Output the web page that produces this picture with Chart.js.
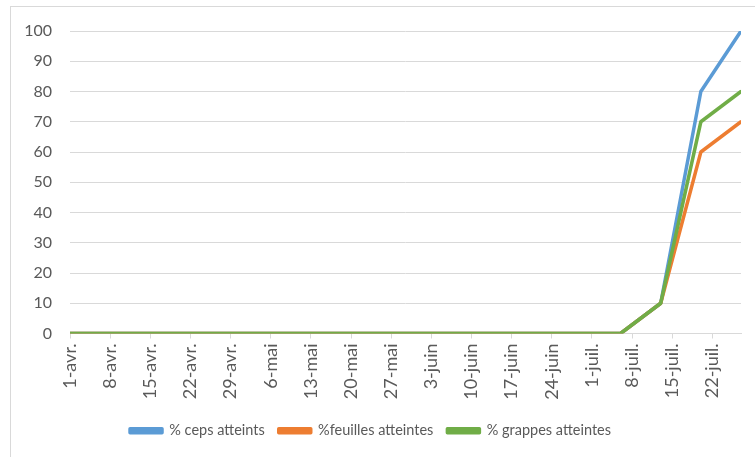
<!DOCTYPE html>
<html>
<head>
<meta charset="utf-8">
<script src="https://cdn.jsdelivr.net/npm/chart.js@4"></script>
<style>
    html, body { margin: 0; background: #fff; overflow: hidden; }
    #frame {
        position: absolute; left: 10px; top: 6px; width: 800px; height: 500px;
        border: 1px solid #d9d9d9;
    }
    #wrap { position: absolute; left: 0; top: 0; width: 755px; height: 457px; overflow: hidden; }
</style>
</head>
<body>
<div id="frame"></div>
<div id="wrap"><canvas id="chart" width="755" height="457"></canvas></div>
<script>
// dates des relevés
const dates = ['2019-04-01', '2019-07-06', '2019-07-13', '2019-07-20', '2019-07-27'];
const ceps = [0, 0, 10, 80, 100];
const feuilles = [0, 0, 10, 60, 70];
const grappes = [0, 0, 10, 70, 80];
const seriesNames = ['% ceps atteints', '%feuilles atteintes', '% grappes atteintes'];
const monthNames = ['janv.', 'févr.', 'mars', 'avr.', 'mai', 'juin', 'juil.', 'août', 'sept.', 'oct.', 'nov.', 'déc.'];

const DAY = 86400000;
const start = Date.parse(dates[0]);
const dayOf = d => Math.round((Date.parse(d) - start) / DAY);
const lastDay = dayOf(dates[dates.length - 1]);

function formatDay(v) {
    const d = new Date(start + v * DAY);
    return d.getUTCDate() + '-' + monthNames[d.getUTCMonth()];
}

function toPoints(values) {
    return values.map((v, i) => ({ x: dayOf(dates[i]), y: v }));
}

const textColor = '#595959';
const gridColor = '#d9d9d9';
const family = 'Lato, "Open Sans", sans-serif';

function makeSet(label, values, color, order) {
    return {
        label: label,
        data: toPoints(values),
        borderColor: color,
        backgroundColor: color,
        borderWidth: 3.5,
        pointRadius: 0,
        tension: 0,
        borderCapStyle: 'round',
        borderJoinStyle: 'round',
        order: order
    };
}

new Chart(document.getElementById('chart').getContext('2d'), {
    type: 'line',
    data: {
        datasets: [
            makeSet(seriesNames[0], ceps, '#5b9bd5', 2),
            makeSet(seriesNames[1], feuilles, '#ed7d31', 1),
            makeSet(seriesNames[2], grappes, '#70ad47', 0)
        ]
    },
    options: {
        responsive: false,
        animation: false,
        layout: { padding: { left: 0, right: 14, top: 31, bottom: 9 } },
        plugins: {
            tooltip: { enabled: false },
            legend: {
                position: 'bottom',
                labels: {
                    font: { family: family, size: 14.5 },
                    color: textColor,
                    boxWidth: 32,
                    boxHeight: 4,
                    padding: 14,
                    sort: (a, b) => a.datasetIndex - b.datasetIndex
                }
            }
        },
        scales: {
            x: {
                type: 'linear',
                min: 0,
                max: lastDay,
                afterFit: s => { s.height = 76; },
                grid: { drawOnChartArea: false, drawTicks: true, tickLength: 5, color: gridColor },
                border: { color: gridColor },
                ticks: {
                    stepSize: 7,
                    includeBounds: false,
                    autoSkip: false,
                    minRotation: 90,
                    maxRotation: 90,
                    padding: 5,
                    font: { family: family, size: 18 },
                    color: textColor,
                    callback: v => formatDay(v)
                }
            },
            y: {
                min: 0,
                max: 100,
                afterFit: s => { s.width = 70; },
                grid: { color: gridColor, drawTicks: false },
                border: { display: false },
                ticks: { stepSize: 10, padding: 18, font: { family: family, size: 16 }, color: textColor }
            }
        }
    }
});
</script>
</body>
</html>
